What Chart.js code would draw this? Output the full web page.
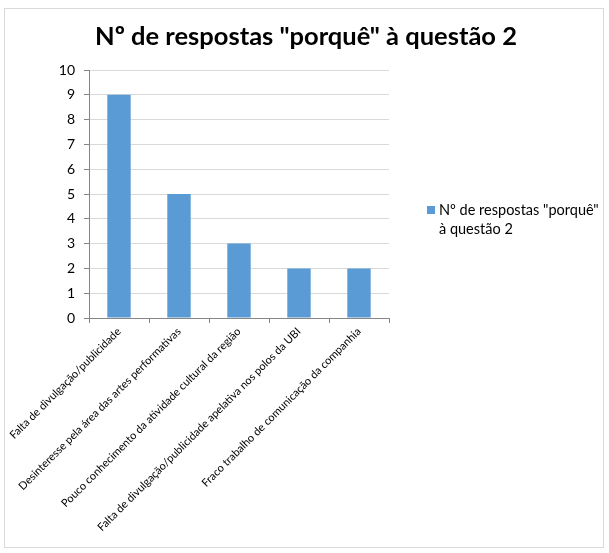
<!DOCTYPE html>
<html>
<head>
<meta charset="utf-8">
<script src="https://cdn.jsdelivr.net/npm/chart.js@4/dist/chart.umd.min.js"></script>
<style>
body { margin:0; background:#fff; }
#box { position:absolute; left:4px; top:8px; width:598px; height:538px; border:1px solid #d9d9d9; }
#cnv { display:block; }
</style>
</head>
<body>
<div id="box"><canvas id="cnv" width="598" height="538"></canvas></div>
<script>
var categories=["Falta de divulgação/publicidade","Desinteresse pela área das artes performativas","Pouco conhecimento da atividade cultural da região","Falta de divulgação/publicidade apelativa nos polos da UBI","Fraco trabalho de comunicação da companhia"];
var respostas=[9,5,3,2,2];
var seriesName='Nº de respostas "porquê" à questão 2';
var chartTitle='Nº de respostas "porquê" à questão 2';
var yTicks=[0,1,2,3,4,5,6,7,8,9,10];

var fontFam="Lato, 'Open Sans', sans-serif";
var barColor="#5b9bd5";

// title centred on the whole box, legend wrapped like Excel does
var sideLegend={
	id:"sideLegend",
	afterDraw:function(chart){
		var ctx=chart.ctx;
		var ds=chart.data.datasets[0];
		ctx.save();
		ctx.font="bold 25.5px "+fontFam;
		ctx.fillStyle="#000";
		ctx.textAlign="center";
		ctx.textBaseline="middle";
		ctx.fillText(chartTitle,301,28);

		var x=422, y=201, maxW=168;
		ctx.textAlign="left";
		ctx.font="14.5px "+fontFam;
		ctx.fillStyle=ds.backgroundColor;
		ctx.fillRect(x,y-4,8,8);
		var words=ds.label.split(" "), lines=[], cur="";
		for(var i=0;i<words.length;i++){
			var t=cur?cur+" "+words[i]:words[i];
			if(ctx.measureText(t).width>maxW&&cur){ lines.push(cur); cur=words[i]; }
			else cur=t;
		}
		lines.push(cur);
		ctx.fillStyle="#000";
		for(var j=0;j<lines.length;j++) ctx.fillText(lines[j],x+12,y+j*19);
		ctx.restore();
	}
};

new Chart(document.getElementById("cnv").getContext("2d"),{
	type:"bar",
	data:{ labels:categories, datasets:[{ label:seriesName, data:respostas, backgroundColor:barColor, barPercentage:0.39, categoryPercentage:1 }] },
	options:{
		responsive:false, animation:false,
		layout:{ padding:{ left:0, right:214, top:61, bottom:0 } },
		plugins:{
			legend:{ display:false },
			tooltip:{ enabled:false },
			title:{ display:false }
		},
		scales:{
			x:{
				grid:{ display:true, drawOnChartArea:false, tickLength:5, color:"#868686" },
				border:{ color:"#868686" },
				ticks:{ color:"#000", font:{ family:fontFam, size:11 }, minRotation:45, maxRotation:45, autoSkip:false, padding:2 },
				afterFit:function(s){ s.height=229; s.paddingLeft=0; s.paddingRight=0; }
			},
			y:{
				min:0, max:10,
				afterBuildTicks:function(s){ s.ticks=yTicks.map(function(v){ return {value:v}; }); },
				grid:{ color:"#d9d9d9", tickLength:5, tickColor:"#868686" },
				border:{ color:"#868686" },
				ticks:{ color:"#000", font:{ family:fontFam, size:14 }, padding:9 },
				afterFit:function(s){ s.width=84; s.paddingTop=0; s.paddingBottom=0; }
			}
		}
	},
	plugins:[sideLegend]
});
</script>
</body>
</html>
